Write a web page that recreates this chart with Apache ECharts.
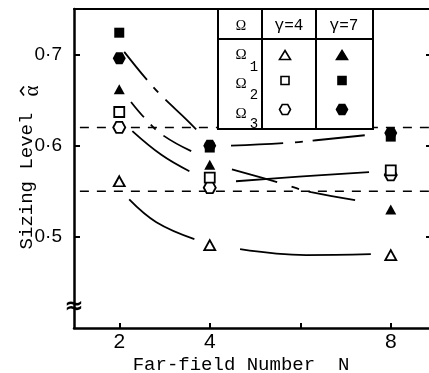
<!DOCTYPE html>
<html><head><meta charset="utf-8">
<script src="https://cdn.jsdelivr.net/npm/echarts@6/dist/echarts.min.js"></script>
<style>html,body{margin:0;padding:0;background:#fff}#c{width:429px;height:373px}</style>
</head><body><div id="c"></div>
<script>
// ---- data ----
const farFieldN = [2, 4, 8];
const omega1Gamma4 = [0.561, 0.491, 0.480];
const omega2Gamma4 = [0.637, 0.565, 0.573];
const omega3Gamma4 = [0.620, 0.554, 0.568];
const omega1Gamma7 = [0.662, 0.579, 0.530];
const omega2Gamma7 = [0.724, 0.598, 0.610];
const omega3Gamma7 = [0.696, 0.600, 0.614];
const referenceLevels = [0.62, 0.55];
const xTickValues = [2, 4, 6, 8];
const xLabelValues = [2, 4, 8];
const yTickValues = [0.5, 0.6, 0.7];
// fitted curves, [N, alpha] pairs
const curveO3G7a = [[2.11, 0.703], [2.60, 0.673], [2.95, 0.654], [3.48, 0.629], [3.70, 0.618]];
const curveO3G7b = [[4.47, 0.600], [5.69, 0.603], [6.35, 0.606], [7.52, 0.612]];
const curveO1G7a = [[2.26, 0.648], [2.55, 0.631], [2.95, 0.612], [3.59, 0.594]];
const curveO1G7b = [[4.49, 0.574], [5.49, 0.560], [6.24, 0.549], [7.52, 0.538]];
const curveG4Ua = [[2.29, 0.616], [2.93, 0.590], [3.55, 0.572]];
const curveG4Ub = [[4.58, 0.561], [5.97, 0.566], [7.52, 0.571]];
const curveO1G4a = [[2.22, 0.541], [2.82, 0.516], [3.66, 0.4975]];
const curveO1G4b = [[4.67, 0.4865], [6.13, 0.480], [7.56, 0.481]];

// ---- styling ----
const ink = '#000';
const X_MIN = 1, X_MAX = 8.845;
const hexPath = 'path://M0,5L2.5,0.67L7.5,0.67L10,5L7.5,9.33L2.5,9.33Z';
const pairs = ys => farFieldN.map((n, i) => [n, ys[i]]);

function scatter(name, ys, symbol, size, filled) {
  return {
    name, type: 'scatter', data: pairs(ys), symbol, symbolSize: size,
    itemStyle: { color: filled ? ink : '#fff', borderColor: ink, borderWidth: filled ? 0 : 1.8, opacity: 1 },
    z: 5, emphasis: { disabled: true }
  };
}
function curve(data, type, offset) {
  return {
    type: 'line', data, smooth: 0.4, showSymbol: false, symbol: 'none',
    lineStyle: { color: ink, width: 1.8, type, dashOffset: offset || 0 },
    z: 3, silent: true
  };
}
function refLine(level) {
  return {
    type: 'line', data: [[1.13, level], [X_MAX, level]], showSymbol: false, symbol: 'none',
    lineStyle: { color: ink, width: 1.5, type: [9, 8] }, z: 2, silent: true
  };
}

function glyph(kind, filled, cx, cy, w, h) {
  const style = { fill: filled ? ink : '#fff', stroke: ink, lineWidth: 1.6 };
  if (kind === 'triangle') return { type: 'polygon', z: 100, shape: { points: [[cx, cy - h / 2], [cx + w / 2, cy + h / 2], [cx - w / 2, cy + h / 2]] }, style };
  if (kind === 'square') return { type: 'rect', z: 100, shape: { x: cx - w / 2, y: cy - h / 2, width: w, height: h }, style };
  return { type: 'polygon', z: 100, shape: { points: [[cx - w / 2, cy], [cx - w / 4, cy - h / 2], [cx + w / 4, cy - h / 2], [cx + w / 2, cy], [cx + w / 4, cy + h / 2], [cx - w / 4, cy + h / 2]] }, style };
}
function txt(text, x, y, font, extra) {
  return Object.assign({ type: 'text', x, y, z: 101, style: { text, font, fill: ink, align: 'center', verticalAlign: 'middle' } }, extra || {});
}
function line(x1, y1, x2, y2) {
  return { type: 'line', z: 101, shape: { x1, y1, x2, y2 }, style: { stroke: ink, lineWidth: 2 } };
}

const legendRows = [
  { label: '1', kind: 'triangle', y: 55, ly: 55, sy: 67, w: 11, h: 9 },
  { label: '2', kind: 'square', y: 80.5, ly: 84, sy: 95, w: 8, h: 8 },
  { label: '3', kind: 'hexagon', y: 109.5, ly: 114, sy: 124, w: 11, h: 10 }
];
const graphics = [
  { type: 'rect', z: 99, shape: { x: 218, y: 9, width: 155, height: 120 }, style: { fill: '#fff', stroke: ink, lineWidth: 2 } },
  line(218, 39, 373, 39), line(262, 9, 262, 129), line(316, 9, 316, 129),
  txt('Ω', 241, 26, '14px "Liberation Serif"'),
  txt('γ=4', 289, 26, '16px "Liberation Mono"'),
  txt('γ=7', 344, 26, '16px "Liberation Mono"'),
  // axis titles
  txt('Far-field Number  N', 241, 365, '19px "Liberation Mono"'),
  txt('Sizing Level', 27, 181, '19px "Liberation Mono"', { rotation: Math.PI / 2 }),
  txt('α', 32, 91, '21px "Liberation Serif"', { rotation: Math.PI / 2 }),
  { type: 'polyline', z: 101, shape: { points: [[24, 86.5], [20.5, 91], [24, 95.5]] }, style: { stroke: ink, lineWidth: 1.6, fill: null } },
  // axis break
  txt('≈', 74, 307, 'bold 23px "DejaVu Sans"')
];
legendRows.forEach(r => {
  graphics.push(txt('Ω', 241, r.ly, '15px "Liberation Serif"'));
  graphics.push(txt(r.label, 254, r.sy, '14px "Liberation Mono"'));
  graphics.push(glyph(r.kind, false, 285, r.y, r.w, r.h));
  graphics.push(glyph(r.kind, true, 342, r.y, r.w, r.h));
});

const chart = echarts.init(document.getElementById('c'), null, { renderer: 'canvas' });
chart.setOption({
  animation: false,
  backgroundColor: '#fff',
  grid: { left: 74, right: 0, top: 9, bottom: 45, containLabel: false },
  xAxis: [{
    type: 'value', min: X_MIN, max: X_MAX, interval: 1,
    axisLine: { show: true, lineStyle: { color: ink, width: 2.5 } },
    axisTick: { show: true, inside: true, length: 5, customValues: xTickValues, lineStyle: { color: ink, width: 2 } },
    axisLabel: { show: true, customValues: xLabelValues, margin: 4, color: ink, fontSize: 21, fontFamily: 'Liberation Sans' },
    splitLine: { show: false }
  }, {
    type: 'value', position: 'top', min: X_MIN, max: X_MAX,
    axisLine: { show: true, lineStyle: { color: ink, width: 2 } },
    axisTick: { show: false }, axisLabel: { show: false }, splitLine: { show: false }
  }],
  yAxis: [{
    type: 'value', min: 0.4, max: 0.75, interval: 0.1,
    axisLine: { show: true, lineStyle: { color: ink, width: 2.5 } },
    axisTick: { show: true, inside: true, length: 6, customValues: yTickValues, lineStyle: { color: ink, width: 2 } },
    axisLabel: { show: true, customValues: yTickValues, margin: 12, color: ink, fontSize: 19, fontFamily: 'Liberation Sans',
      formatter: v => v.toFixed(1).replace('.', '\u00B7') },
    splitLine: { show: false }
  }, {
    type: 'value', position: 'right', min: 0.4, max: 0.75, interval: 0.1,
    axisLine: { show: false },
    axisTick: { show: true, inside: true, length: 3, customValues: yTickValues, lineStyle: { color: ink, width: 2 } },
    axisLabel: { show: false }, splitLine: { show: false }
  }],
  series: [
    refLine(referenceLevels[0]), refLine(referenceLevels[1]),
    curve(curveO3G7a, [50, 10, 7, 10], 14), curve(curveO3G7b, [52, 12, 8, 10], 0),
    curve(curveO1G7a, [50, 10, 7, 10], 30), curve(curveO1G7b, [47, 15, 8, 10], 0),
    curve(curveG4Ua, 'solid'), curve(curveG4Ub, 'solid'),
    curve(curveO1G4a, 'solid'), curve(curveO1G4b, 'solid'),
    scatter('Ω3 γ=4', omega3Gamma4, hexPath, [12, 11], false),
    scatter('Ω2 γ=4', omega2Gamma4, 'rect', [10, 10], false),
    scatter('Ω1 γ=4', omega1Gamma4, 'triangle', [11, 10], false),
    scatter('Ω2 γ=7', omega2Gamma7, 'rect', [10, 10], true),
    scatter('Ω3 γ=7', omega3Gamma7, hexPath, [13, 12], true),
    scatter('Ω1 γ=7', omega1Gamma7, 'triangle', [11, 10], true)
  ],
  graphic: graphics
});
</script>
</body></html>
